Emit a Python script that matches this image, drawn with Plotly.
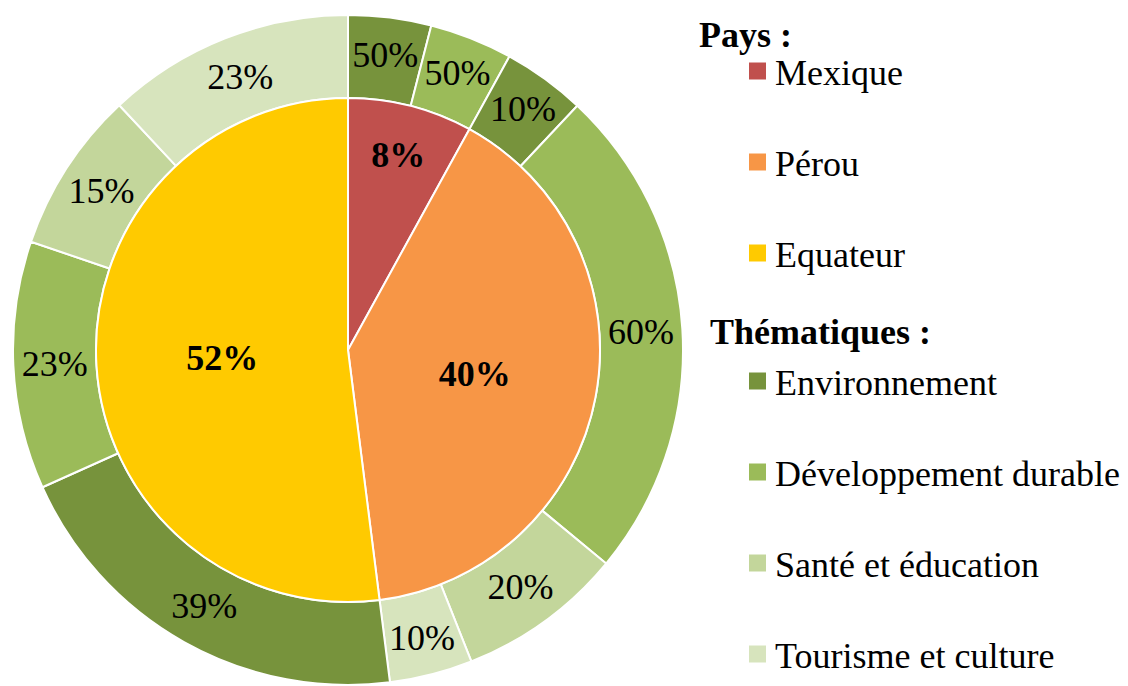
import plotly.graph_objects as go

# ---- data ----
countries = ["Mexique", "Pérou", "Equateur"]
country_share = [8, 40, 52]
country_colors = ["#C0504D", "#F79646", "#FFCA00"]

themes = ["Environnement", "Développement durable", "Santé et éducation", "Tourisme et culture"]
theme_colors = ["#77933C", "#9BBB59", "#C3D69B", "#D7E4BD"]
# share of each theme within each country (%), 0 = absent
mexique_themes = [50, 50, 0, 0]
perou_themes = [10, 60, 20, 10]
equateur_themes = [39, 23, 15, 23]
theme_shares = [mexique_themes, perou_themes, equateur_themes]

# ---- build outer ring ----
outer_labels, outer_values, outer_text, outer_colors = [], [], [], []
for c, cshare, shares in zip(countries, country_share, theme_shares):
    for t, col, s in zip(themes, theme_colors, shares):
        if s == 0:
            continue
        outer_labels.append(f"{c} - {t}")
        outer_values.append(cshare * s / 100)
        outer_text.append(f"{s}%")
        outer_colors.append(col)

W, H = 1128, 686
OFF = 8  # page body margin
FONT = "Liberation Serif, Times New Roman, serif"
FS = 36

def px_x(x):
    return (x - OFF) / W

def px_y(y):
    return 1 - (y - OFF) / H

cx, cy = 348, 350
R_out, R_in = 335, 252

fig = go.Figure()
fig.add_trace(go.Pie(
    labels=outer_labels, values=outer_values, text=outer_text,
    textinfo="text", textposition="inside", insidetextorientation="horizontal",
    sort=False, direction="clockwise", rotation=0,
    hole=R_in / R_out,
    marker=dict(colors=outer_colors, line=dict(color="white", width=2)),
    textfont=dict(family=FONT, size=FS, color="black"),
    insidetextfont=dict(family=FONT, size=FS, color="black"),
    domain=dict(x=[px_x(cx - R_out), px_x(cx + R_out)], y=[px_y(cy + R_out), px_y(cy - R_out)]),
    showlegend=False, hoverinfo="label+text",
))
fig.add_trace(go.Pie(
    labels=countries, values=country_share,
    texttemplate="<b>%{percent:.0%}</b>",
    textposition="inside", insidetextorientation="horizontal",
    sort=False, direction="clockwise", rotation=0,
    marker=dict(colors=country_colors, line=dict(color="white", width=2)),
    textfont=dict(family=FONT, size=FS, color="black"),
    insidetextfont=dict(family=FONT, size=FS, color="black"),
    domain=dict(x=[px_x(cx - R_in), px_x(cx + R_in)], y=[px_y(cy + R_in), px_y(cy - R_in)]),
    showlegend=False,
))

# ---- custom legend ----
annotations = []
shapes = []

def header(text, x, y):
    annotations.append(dict(text=f"<b>{text}</b>", x=px_x(x), y=px_y(y), xref="paper", yref="paper",
                            xanchor="left", yanchor="middle", showarrow=False,
                            font=dict(family=FONT, size=FS, color="black")))

def item(text, color, y):
    sq = 17
    shapes.append(dict(type="rect", xref="paper", yref="paper",
                       x0=px_x(749), x1=px_x(749 + sq), y0=px_y(y + sq / 2), y1=px_y(y - sq / 2),
                       fillcolor=color, line=dict(width=0)))
    annotations.append(dict(text=text, x=px_x(773), y=px_y(y + 2), xref="paper", yref="paper",
                            xanchor="left", yanchor="middle", showarrow=False,
                            font=dict(family=FONT, size=FS, color="black")))

header("Pays :", 697, 35)
for name, col, y in zip(countries, country_colors, [71, 162, 253]):
    item(name, col, y)
header("Thématiques :", 708, 332)
for name, col, y in zip(themes, theme_colors, [381, 472, 563, 654]):
    item(name, col, y)

fig.update_layout(
    width=W, height=H,
    margin=dict(l=0, r=0, t=0, b=0),
    paper_bgcolor="white", plot_bgcolor="white",
    font=dict(family=FONT),
    uniformtext=dict(minsize=FS, mode="show"),
    annotations=annotations, shapes=shapes,
)

fig.write_html("out.html")
